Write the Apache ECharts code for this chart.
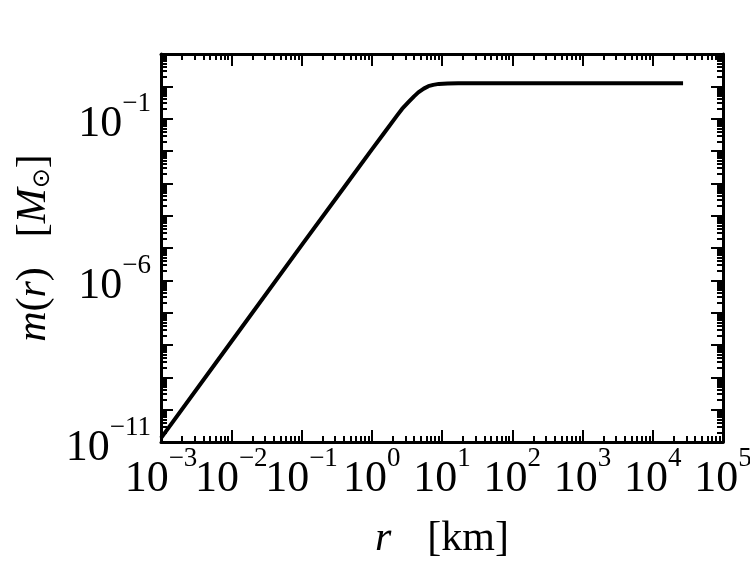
<!DOCTYPE html>
<html>
<head>
<meta charset="utf-8">
<script src="https://cdn.jsdelivr.net/npm/echarts@6/dist/echarts.min.js"></script>
<style>
  html, body { margin: 0; padding: 0; background: #fff; }
  #main { width: 750px; height: 567px; }
</style>
</head>
<body>
<div id="main"></div>
<script>
// r in km, m(r) in solar masses
var radiusKm = [1e-3, 1e-2, 0.1, 0.4, 1, 1.5, 2.3, 2.7, 3.35, 4, 4.6, 5.5, 6.4, 7.5, 9, 12, 17, 100, 1000, 1e4, 2.7e4];
var massSun  = [1.32e-11, 1.26e-8, 1.2e-5, 7.3e-4, 1.1e-2, 3.6e-2, 0.126, 0.2, 0.33, 0.49, 0.65, 0.85, 1.01, 1.11, 1.19, 1.23, 1.25, 1.25, 1.25, 1.25, 1.25];

// tick positions
var xDecades = [1e-3, 1e-2, 1e-1, 1, 10, 100, 1e3, 1e4, 1e5];
// neighbouring x labels touch, so they are split over two axes
var xLabelsOdd = [1e-3, 1e-1, 10, 1e3, 1e5];
var xLabelsEven = [1e-2, 1, 100, 1e4];
var yDecades = [1e-11, 1e-10, 1e-9, 1e-8, 1e-7, 1e-6, 1e-5, 1e-4, 1e-3, 1e-2, 1e-1, 1, 10];
var yLabelValues = [1e-11, 1e-6, 1e-1];

function minorsOf(decades) {
  var out = [];
  for (var i = 0; i < decades.length - 1; i++) {
    for (var k = 2; k <= 9; k++) out.push(decades[i] * k);
  }
  return out;
}
var xMinor = minorsOf(xDecades);
var yMinor = minorsOf(yDecades);

var serif = 'Liberation Serif';
var ink = '#000';

function powLabel(v) {
  var e = Math.round(Math.log10(v));
  var s = e < 0 ? '\u2212' + (-e) : String(e);
  return '{a|10}{b|' + s + '}';
}
var labelRich = {
  a: { fontFamily: serif, fontSize: 44, color: ink, lineHeight: 56, verticalAlign: 'bottom' },
  b: { fontFamily: serif, fontSize: 27, color: ink, lineHeight: 30, verticalAlign: 'top' }
};

function tickAxis(pos, values, len, withLine, labels) {
  return {
    type: 'log',
    logBase: 10,
    position: pos,
    axisLine: { show: withLine, onZero: false, lineStyle: { color: ink, width: 3 } },
    axisTick: { show: true, inside: true, length: len, customValues: values, lineStyle: { color: ink, width: 2 } },
    axisLabel: labels ? labels : { show: false },
    splitLine: { show: false },
    minorTick: { show: false }
  };
}
function xLabels(values) {
  return {
    show: true, customValues: values, margin: 3, formatter: powLabel, rich: labelRich,
    hideOverlap: false, showMinLabel: true, showMaxLabel: true
  };
}

var chart = echarts.init(document.getElementById('main'), null, { renderer: 'canvas' });

var xMain = tickAxis('bottom', xDecades, 12, true, xLabels(xLabelsOdd));
xMain.name = '{i|r}{n|[km]}';
xMain.nameLocation = 'middle';
xMain.nameGap = 76;
xMain.nameTextStyle = {
  rich: {
    i: { fontFamily: serif, fontStyle: 'italic', fontSize: 42, color: ink, padding: [0, 36, 0, 0] },
    n: { fontFamily: serif, fontSize: 42, color: ink }
  }
};

var yMain = tickAxis('left', yDecades, 12, true, {
  show: true, customValues: yLabelValues, margin: 10, formatter: powLabel, rich: labelRich,
  hideOverlap: false, showMinLabel: true
});
yMain.name = '{i|m}{n|(}{i|r}{n|)}{g|}{n|[}{i|M}{s|\u2299}{n|]}';
yMain.nameLocation = 'middle';
yMain.nameGap = 100;
yMain.nameTextStyle = {
  rich: {
    i: { fontFamily: serif, fontStyle: 'italic', fontSize: 42, color: ink },
    n: { fontFamily: serif, fontSize: 42, color: ink },
    g: { width: 30 },
    s: { fontFamily: 'DejaVu Sans', fontSize: 24, color: ink, padding: [18, 0, 0, 0] }
  }
};

var xAxes = [
  xMain,
  tickAxis('bottom', xMinor, 6, false, xLabels(xLabelsEven)),
  tickAxis('top', xDecades, 12, true),
  tickAxis('top', xMinor, 6, false)
];
var yAxes = [
  yMain,
  tickAxis('left', yMinor, 6, false),
  tickAxis('right', yDecades, 12, true),
  tickAxis('right', yMinor, 6, false)
];
xAxes.forEach(function (a) { a.min = 1e-3; a.max = 1e5; });
yAxes.forEach(function (a) { a.min = 1e-11; a.max = 10; });

var points = radiusKm.map(function (r, i) { return [r, massSun[i]]; });

chart.setOption({
  animation: false,
  backgroundColor: '#fff',
  grid: { left: 161, right: 27, top: 54, bottom: 125, containLabel: false, outerBoundsMode: 'none' },
  xAxis: xAxes,
  yAxis: yAxes,
  series: [{
    type: 'line',
    xAxisIndex: 0,
    yAxisIndex: 0,
    data: points,
    showSymbol: false,
    smooth: false,
    lineStyle: { color: ink, width: 4, join: 'round', cap: 'butt' }
  }]
});
</script>
</body>
</html>
